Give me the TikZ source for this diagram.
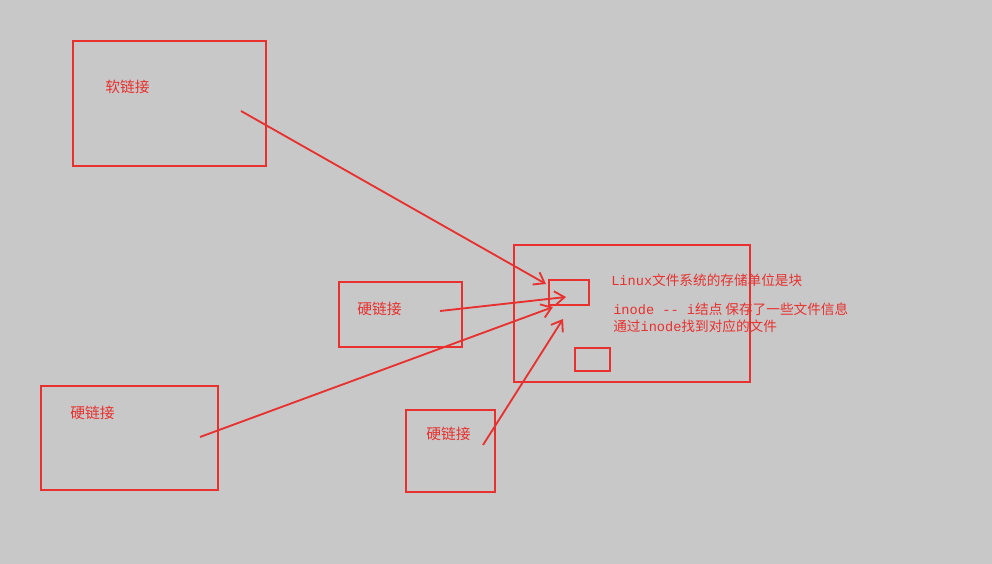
\documentclass[tikz,border=0pt]{standalone}
\usepackage{fontspec}
\newfontfamily\cjk{Noto Sans CJK SC}
\setmonofont{Liberation Mono}
\usetikzlibrary{arrows.meta}
\definecolor{screen}{HTML}{C8C8C8}
\definecolor{pen}{HTML}{E8302E}
\tikzset{
    box/.style={draw=pen, line width=1.3pt, rectangle, anchor=north west, inner sep=0pt, outer sep=0pt},
    label/.style={anchor=west, text=pen, inner sep=0pt, font=\cjk\fontsize{10.5}{12}\selectfont},
    note/.style={anchor=west, text=pen, inner sep=0pt, font=\cjk\fontsize{9.7}{11}\selectfont},
    link/.style={->, draw=pen, line width=1.3pt}
}
\begin{document}
\begin{tikzpicture}[x=0.025cm, y=-0.025cm, >={Straight Barb[length=7pt, width=10pt]}]
        % screen
        \fill[screen] (0,0) rectangle (992,564);
        \useasboundingbox (0,0) rectangle (992,564);

        % Soft link
        \node[box, minimum width=4.825cm, minimum height=3.125cm] (soft) at (73,41) {};
        \node[label] (softtext) at (105,87) {软链接};

        % Hard links
        \node[box, minimum width=3.075cm, minimum height=1.625cm] (hardA) at (339,282) {};
        \node[label] (hardAtext) at (357,309) {硬链接};
        \node[box, minimum width=4.425cm, minimum height=2.6cm] (hardB) at (41,386) {};
        \node[label] (hardBtext) at (70,413) {硬链接};
        \node[box, minimum width=2.225cm, minimum height=2.05cm] (hardC) at (406,410) {};
        \node[label] (hardCtext) at (426,434) {硬链接};

        % File system
        \node[box, minimum width=5.9cm, minimum height=3.425cm] (fs) at (514,245) {};
        \node[box, minimum width=1.0cm, minimum height=0.625cm] (block) at (549,280) {};
        \node[box, minimum width=0.875cm, minimum height=0.575cm] (other) at (575,348) {};
        \node[note] (unit) at (611,280) {{\ttfamily Linux}文件系统的存储单位是块};
        \node[note] (inode) at (613,309) {{\ttfamily inode -- i}结点\ 保存了一些文件信息};
        \node[note] (find) at (613,326) {通过{\ttfamily inode}找到对应的文件};

        % Relations
        \coordinate (softout) at (241,111);
        \coordinate (softin) at (546,284);
        \coordinate (hardAout) at (440,311);
        \coordinate (hardAin) at (566,297);
        \coordinate (hardBout) at (200,437);
        \coordinate (hardBin) at (553,307);
        \coordinate (hardCout) at (483,445);
        \coordinate (hardCin) at (563,319);
        \draw[link] (softout) -- (softin);
        \draw[link] (hardAout) -- (hardAin);
        \draw[link] (hardBout) -- (hardBin);
        \draw[link] (hardCout) -- (hardCin);
    \end{tikzpicture}
\end{document}
